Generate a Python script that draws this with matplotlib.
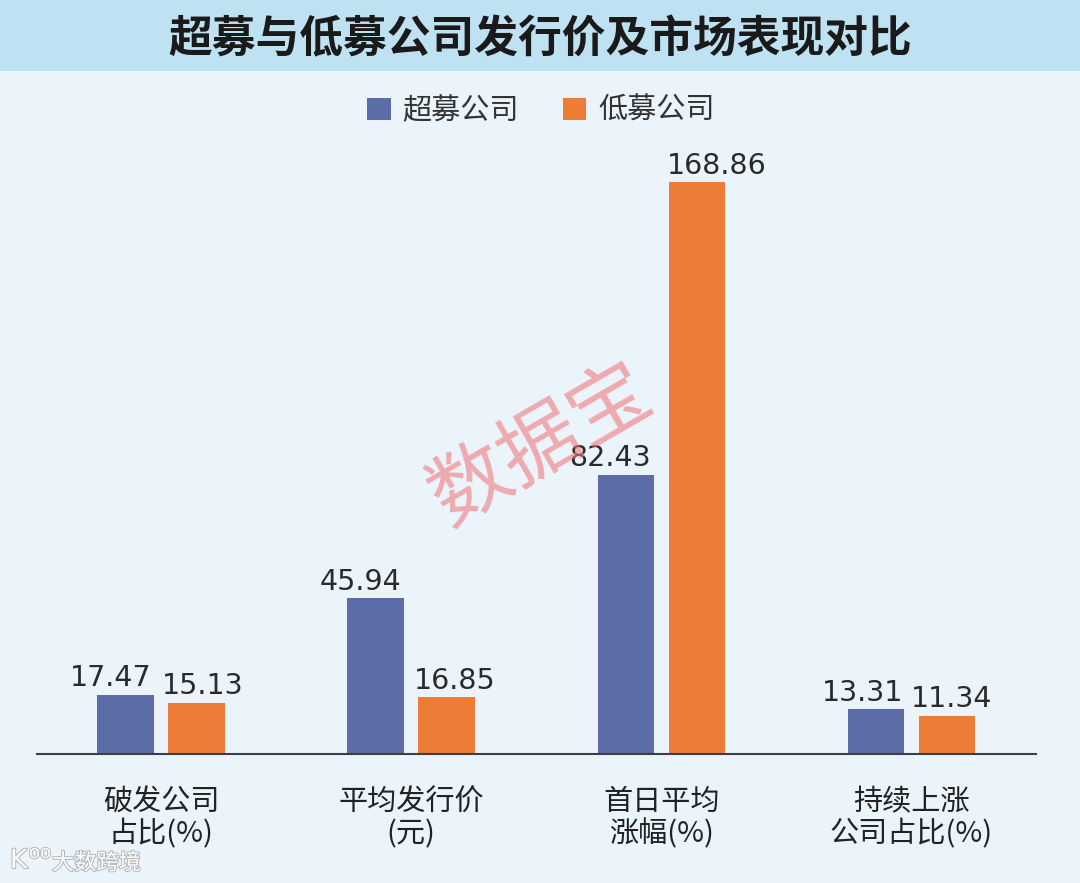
import matplotlib
matplotlib.use("Agg")
import numpy as np
import matplotlib.pyplot as plt
import matplotlib.patheffects as pe
from matplotlib.patches import Rectangle

plt.rcParams['font.family'] = ['Noto Sans CJK SC', 'DejaVu Sans']

categories = ["破发公司\n占比(%)", "平均发行价\n(元)", "首日平均\n涨幅(%)", "持续上涨\n公司占比(%)"]
over_raised = [17.47, 45.94, 82.43, 13.31]
under_raised = [15.13, 16.85, 168.86, 11.34]
series_names = ["超募公司", "低募公司"]
title = "超募与低募公司发行价及市场表现对比"

# label shifts from the bar centre, in pixels
over_dx = [-15, -15, -16, -13]
under_dx = [6, 8, 20, 5]

W, H = 1080, 883
fig = plt.figure(figsize=(W / 100, H / 100), dpi=100, facecolor="#ebf4fb")

# title band
fig.patches.append(Rectangle((0, 1 - 71 / H), 1, 71 / H, transform=fig.transFigure, color="#bfe2f2", lw=0))
fig.text(540 / W, 1 - 39 / H, title, ha="center", va="center", fontsize=31.5, fontweight="bold", color="#1a1a1a")

# axes spans x 37-1036, baseline at y=754
ax = fig.add_axes([37 / W, 1 - 754 / H, 999 / W, 620 / H])
ax.set_facecolor("none")
ax.set_xlim(0, 999)
# 168.86 -> top at y=182 (572 px)
ax.set_ylim(0, 620 * 168.86 / 572)

x = np.array([124, 374, 624.5, 874.5])
bw = 56.5
ax.bar(x - 35.5, over_raised, bw, color="#5b6ca6", label=series_names[0])
ax.bar(x + 35.5, under_raised, bw, color="#ed7d36", label=series_names[1])

for xi, v, dx in zip(x - 35.5, over_raised, over_dx):
    ax.annotate(f"{v:.2f}", (xi, v), xytext=(dx * 0.72, 6), textcoords="offset points", ha="center", va="baseline",
                fontsize=20.5, color="#2a2a2a", family="DejaVu Sans")
for xi, v, dx in zip(x + 35.5, under_raised, under_dx):
    ax.annotate(f"{v:.2f}", (xi, v), xytext=(dx * 0.72, 6), textcoords="offset points", ha="center", va="baseline",
                fontsize=20.5, color="#2a2a2a", family="DejaVu Sans")

ax.set_xticks(x)
ax.set_xticklabels(categories, fontsize=21, color="#222222", linespacing=1.09)
ax.tick_params(axis="x", length=0, pad=24)
ax.set_yticks([])
for sp in ["top", "left", "right"]:
    ax.spines[sp].set_visible(False)
ax.spines["bottom"].set_color("#3a3f47")
ax.spines["bottom"].set_linewidth(1.5)

fig.legend(loc="center", bbox_to_anchor=(541 / W, 1 - 111 / H), ncol=2, frameon=False,
           fontsize=21, handlelength=0.79, handleheight=0.79, handletextpad=0.41, columnspacing=1.51,
           labelcolor="#333333")

# watermark
fig.text(541 / W, 1 - 446 / H, "数据宝", ha="center", va="center", fontsize=58, rotation=30,
         color="#f0797c", alpha=0.6)

# source mark bottom left
outline = [pe.withStroke(linewidth=1.5, foreground="#b5b8bb")]
fig.text(10 / W, 1 - 861 / H, "K", ha="left", va="center", fontsize=19, color="white",
         family="DejaVu Sans", path_effects=outline)
fig.text(29 / W, 1 - 853 / H, "oo", ha="left", va="center", fontsize=13, color="white",
         family="DejaVu Sans", path_effects=outline)
fig.text(52 / W, 1 - 863 / H, "大数跨境", ha="left", va="center", fontsize=16, color="white", path_effects=outline)

fig.savefig("out.png", dpi=100, facecolor=fig.get_facecolor())
